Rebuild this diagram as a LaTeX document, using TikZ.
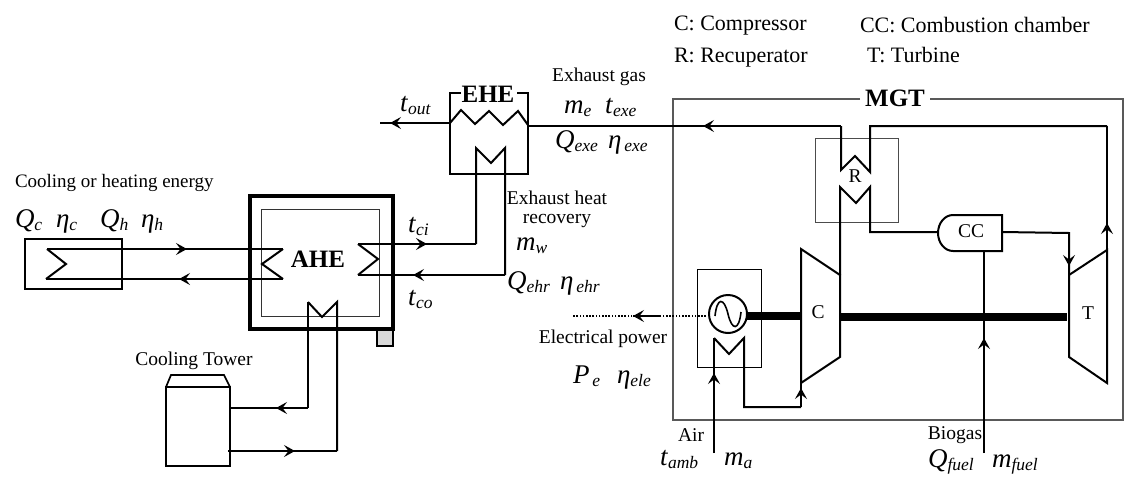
\documentclass[tikz,border=0pt]{standalone}
\usepackage{fontspec}
\setmainfont{Liberation Serif}
\usetikzlibrary{arrows.meta,decorations.markings}
\newcommand{\vr}[2]{\fontsize{27}{27}\selectfont\textit{#1}\raisebox{-3.5pt}{\fontsize{17.5}{18}\selectfont\textit{#2}}}
\tikzset{
  x=1pt,y=-1pt,
  every node/.style={inner sep=0pt,outer sep=0pt},
  pipe/.style={line width=2pt,line join=miter},
  thin box/.style={draw=black!70,line width=1pt,fill=none},
  aw/.style={decoration={markings,mark=at position #1pt with {\arrow{Stealth[length=11pt,width=12pt,inset=4.5pt]}}},postaction=decorate},
  lab/.style={font=\fontsize{19.5}{20}\selectfont},
  leg/.style={font=\fontsize{22}{22}\selectfont,anchor=base west},
  var/.style={anchor=base west},
  title/.style={font=\fontsize{25}{26}\selectfont\bfseries,fill=white},
}
\begin{document}
\begin{tikzpicture}
\useasboundingbox (0,0) rectangle (1129,488);
% frames
\coordinate (f1) at (860,99); \coordinate (f2) at (673,99); \coordinate (f3) at (673,420); \coordinate (f4) at (1123,420); \coordinate (f5) at (1123,99); \coordinate (f6) at (930,99);
\draw[black!65,line width=1.4pt] (f1) -- (f2) -- (f3) -- (f4) -- (f5) -- (f6);
\node[title] (mgt) at (895,98) {MGT};
\node[thin box,minimum width=83pt,minimum height=84pt] (rbox) at (856.5,180) {};
\node[draw=black,line width=1pt,minimum width=64pt,minimum height=98pt] (gbox) at (729,318) {};
% AHE
\node[draw=black,line width=3.2pt,minimum width=143pt,minimum height=133pt] (aheo) at (321.5,262.5) {};
\node[draw=black!80,line width=1pt,minimum width=118pt,minimum height=107pt] (ahei) at (320,262.5) {};
\node[draw=black,line width=2pt,fill=black!15,minimum width=16pt,minimum height=16pt] (drain) at (385,338) {};
\node[font=\fontsize{25}{26}\selectfont\bfseries] (ahe) at (318,259) {AHE};
% left load box
\node[draw=black,line width=1.5pt,minimum width=97pt,minimum height=50pt] (load) at (73.5,264) {};
% EHE
\coordinate (e1) at (461,93); \coordinate (e2) at (450,93); \coordinate (e3) at (450,174); \coordinate (e4) at (528,174); \coordinate (e5) at (528,93); \coordinate (e6) at (517,93);
\draw[line width=2.8pt] (e1) -- (e2) -- (e3) -- (e4) -- (e5) -- (e6);
\node[font=\fontsize{25}{26}\selectfont\bfseries] (ehe) at (488,94) {EHE};
% exhaust gas path
\coordinate (tr) at (1107,250); \coordinate (trb) at (1107,126);
\coordinate (r1) at (870,126); \coordinate (r2) at (870,172); \coordinate (r3) at (855,156); \coordinate (r4) at (841,170); \coordinate (r5) at (841,126); \coordinate (ex) at (528,126);
\draw[pipe,aw=27] (tr) -- (trb);
\draw[pipe] (trb) -- (r1) -- (r2) -- (r3) -- (r4) -- (r5);
\draw[pipe,aw=138] (r5) -- (ex);
\coordinate (z0) at (528,125); \coordinate (z1) at (518,111); \coordinate (z2) at (503,125); \coordinate (z3) at (489,111); \coordinate (z4) at (475,124); \coordinate (z5) at (461,110); \coordinate (z6) at (450,123); \coordinate (out) at (380,123);
\draw[pipe] (z0) -- (z1) -- (z2) -- (z3) -- (z4) -- (z5) -- (z6);
\draw[pipe,aw=60] (z6) -- (out);
% water loop EHE-AHE
\coordinate (w1) at (358,244); \coordinate (w2) at (476,244); \coordinate (w3) at (476,148); \coordinate (w4) at (491,163); \coordinate (w5) at (505,148); \coordinate (w6) at (505,275); \coordinate (w7) at (358,275); \coordinate (w8) at (378,259);
\draw[pipe] (w1) -- (w8) -- (w7);
\draw[pipe,aw=69] (w1) -- (w2);
\draw[pipe] (w2) -- (w3) -- (w4) -- (w5) -- (w6);
\draw[pipe,aw=92] (w6) -- (w7);
% load loop
\coordinate (l1) at (47,249); \coordinate (l2) at (283,249); \coordinate (l3) at (262,264); \coordinate (l4) at (283,279); \coordinate (l5) at (46,279); \coordinate (l6) at (66,264);
\draw[pipe,aw=140] (l1) -- (l2);
\draw[pipe,aw=104] (l4) -- (l5);
\draw[pipe] (l2) -- (l3) -- (l4);
\draw[pipe] (l1) -- (l6) -- (l5);
% tower
\node[draw=black,line width=1.7pt,minimum width=64pt,minimum height=79pt] (tower) at (198,426.5) {};
\coordinate (tw1) at (171,375); \coordinate (tw2) at (224,375);
\draw[line width=1.7pt] (tower.north west) -- (tw1) -- (tw2) -- (tower.north east);
\coordinate (c1) at (308,302); \coordinate (c2) at (322,317); \coordinate (c3) at (337,302); \coordinate (c4) at (337,451); \coordinate (c5) at (228,451); \coordinate (c6) at (308,408); \coordinate (c7) at (230,408);
\draw[pipe,aw=32] (c6) -- (c7);
\draw[pipe] (c1) -- (c6);
\draw[pipe] (c1) -- (c2) -- (c3) -- (c4);
\draw[pipe,aw=67] (c5) -- (c4);
% MGT
\coordinate (cc1) at (840,275); \coordinate (cc2) at (801,249); \coordinate (cc3) at (801,383); \coordinate (cc4) at (840,357);
\draw[pipe] (cc1) -- (cc2) -- (cc3) -- (cc4) -- cycle;
\node[lab] (clab) at (818,312) {C};
\coordinate (t1) at (1069,275); \coordinate (t2) at (1069,357); \coordinate (t3) at (1107,383);
\draw[pipe] (t1) -- (tr) -- (t3) -- (t2) -- cycle;
\node[lab] (tlab) at (1088,313) {T};
% recuperator cold side
\coordinate (q1) at (840,187); \coordinate (q2) at (856,203); \coordinate (q3) at (870,187); \coordinate (q4) at (870,232); \coordinate (q5) at (938,232);
\draw[pipe] (cc1) -- (q1) -- (q2) -- (q3) -- (q4) -- (q5);
\node[lab] (rlab) at (855,176) {R};
% CC
\draw[pipe] (953,215) -- (1002,215) -- (1002,251) -- (953,251) arc[start angle=270,end angle=90,x radius=15pt,y radius=18pt];
\coordinate (cco) at (1002,232); \coordinate (ccb) at (984,251);
\node[lab] (cclab) at (971,231) {CC};
\coordinate (tt) at (1069,233);
\draw[pipe,aw=100] (cco) -- (tt) -- (t1);
% shaft and generator
\node[draw=black,line width=2pt,circle,minimum size=38pt] (gen) at (728,314) {};
\draw[line width=1.6pt] (715,316) .. controls (717,297) and (724,297) .. (728,314) .. controls (732,331) and (739,331) .. (741,312);
\coordinate (s1) at (747,316); \coordinate (s2) at (840,317); \coordinate (s3) at (1067,317);
\draw[line width=7.3pt] (s1) -- (cc2 |- s1);
\draw[line width=7.3pt] (s2) -- (s3);
\coordinate (fuel) at (984,453);
\draw[pipe,aw=115] (fuel) -- (ccb);
\coordinate (p0) at (706,316); \coordinate (p1) at (573,316); \coordinate (p2) at (660,316); \coordinate (p3) at (633,316);
\draw[line width=2pt,dash pattern=on 1.6pt off 1.6pt,aw=73] (p0) -- (p1);
\draw[line width=2pt] (p2) -- (p3);
% air path
\coordinate (a0) at (714,453); \coordinate (a1) at (714,338); \coordinate (a2) at (729,354); \coordinate (a3) at (744,338); \coordinate (a4) at (744,407); \coordinate (a5) at (801,407);
\draw[pipe,aw=80] (a0) -- (a1);
\draw[pipe] (a1) -- (a2) -- (a3) -- (a4) -- (a5);
\draw[pipe,aw=19] (a5) -- (cc3);
% texts
\node[leg] (l1t) at (674,30) {C: Compressor};
\node[leg] (l2t) at (674,62) {R: Recuperator};
\node[leg] (l3t) at (860,32) {CC: Combustion chamber};
\node[leg] (l4t) at (867,62) {T: Turbine};
\node[lab] (tx1) at (599,77) {Exhaust gas};
\node[lab] (tx2) at (557,198) {Exhaust heat};
\node[lab] (tx3) at (557,221) {recovery};
\node[lab,anchor=west,font=\fontsize{19}{20}\selectfont] (tx4) at (15,183) {Cooling or heating energy};
\node[lab] (tx5) at (194,361) {Cooling Tower};
\node[lab] (tx6) at (603,339) {Electrical power};
\node[lab] (tx7) at (691,435) {Air};
\node[lab] (tx8) at (955,435) {Biogas};
\node[var] (v1) at (400,111) {\vr{t}{out}};
\node[var] (v2) at (564,113) {\vr{m}{e}};
\node[var] (v3) at (605,113) {\vr{t}{exe}};
\node[var] (v4) at (555,148) {\vr{Q}{exe}};
\node[var] (v5) at (608,148) {\vr{η}{\,exe}};
\node[var] (v6) at (516,250) {\vr{m}{w}};
\node[var] (v7) at (408,232) {\vr{t}{ci}};
\node[var] (v8) at (408,305) {\vr{t}{co}};
\node[var] (v9) at (507,289) {\vr{Q}{ehr}};
\node[var] (v10) at (560,289) {\vr{η}{\,ehr}};
\node[var] (v11) at (573,383) {\vr{P}{\,e}};
\node[var] (v12) at (617,383) {\vr{η}{ele}};
\node[var] (v13) at (660,465) {\vr{t}{amb}};
\node[var] (v14) at (724,465) {\vr{m}{a}};
\node[var] (v15) at (928,467) {\vr{Q}{fuel}};
\node[var] (v16) at (992,467) {\vr{m}{fuel}};
\node[var] (v17) at (15,227) {\vr{Q}{c}};
\node[var] (v18) at (56,227) {\vr{η}{c}};
\node[var] (v19) at (100,227) {\vr{Q}{h}};
\node[var] (v20) at (141,227) {\vr{η}{h}};
\end{tikzpicture}
\end{document}
